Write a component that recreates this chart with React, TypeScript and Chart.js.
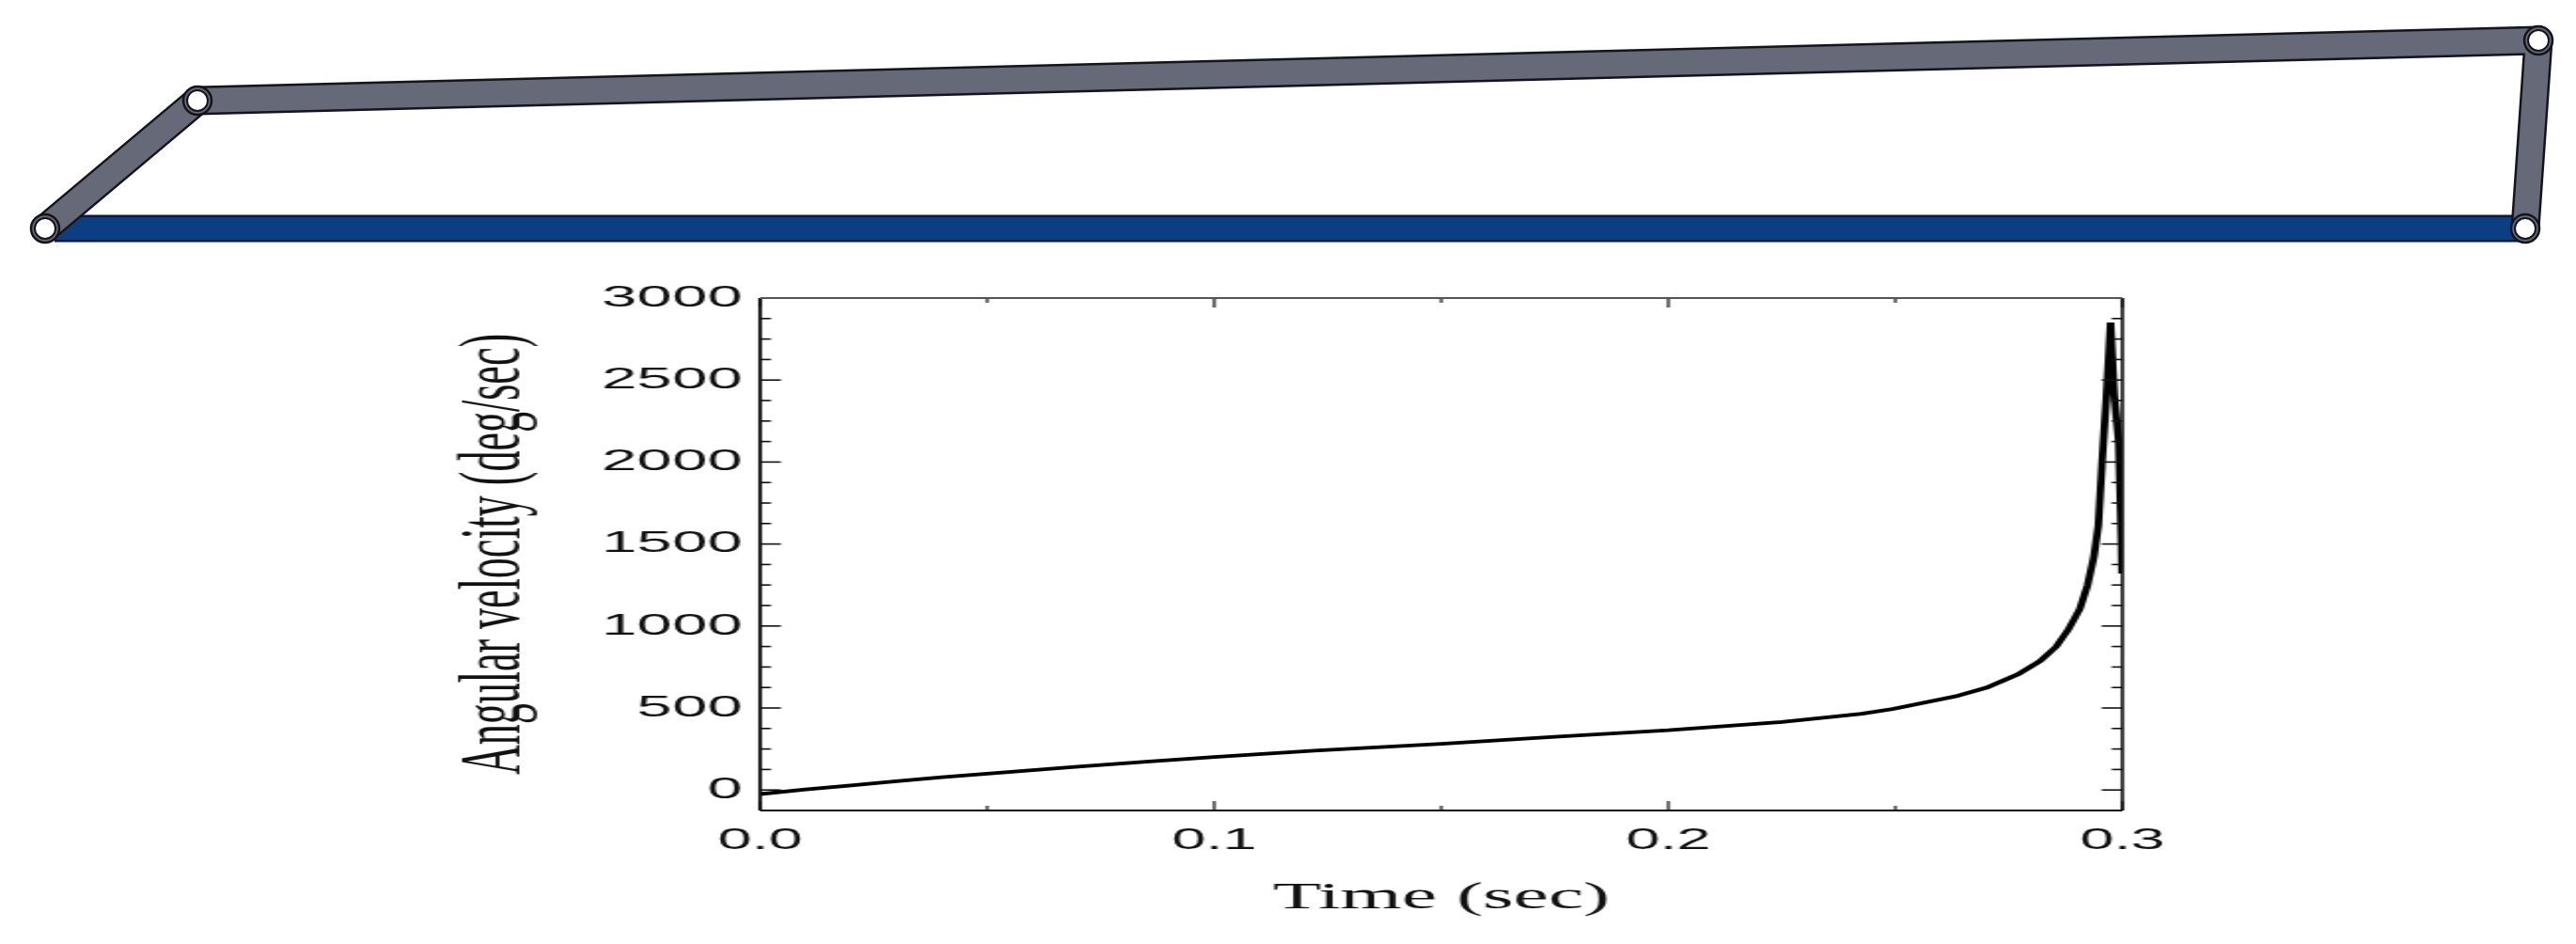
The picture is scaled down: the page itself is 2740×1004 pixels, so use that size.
import React, {useEffect, useRef} from "react";
import Chart from "chart.js/auto";

// curve
const times = [0, 0.01, 0.02, 0.03, 0.04, 0.05, 0.07, 0.085, 0.1, 0.122, 0.15, 0.175, 0.2, 0.225, 0.2426, 0.2495, 0.2564, 0.2633, 0.2702, 0.2771, 0.2819, 0.2854, 0.2881, 0.2906, 0.2923, 0.2937, 0.2947, 0.2955, 0.2965, 0.2974, 0.2982, 0.2992, 0.2998, 0.2999]
const omega = [-25, 3, 28, 53, 78, 100, 142, 172, 201, 240, 282, 325, 365, 415, 465, 494, 533, 571, 625, 707, 787, 874, 979, 1103, 1247, 1420, 1611, 1989, 2408, 2851, 2408, 2120, 1490, 1320]

const yTicks = [0, 500, 1000, 1500, 2000, 2500, 3000]
const yMinor = [125, 250, 375, 625, 750, 875, 1125, 1250, 1375, 1625, 1750, 1875, 2125, 2250, 2375, 2625, 2750, 2875]
const xTicks = [0, 0.1, 0.2, 0.3]
const xMinor = [0.05, 0.15, 0.25]

// four-bar linkage above the plot, in page pixels
const groundX = [58, 2686]
const groundY = [243, 243]
const linkX = [[48, 210], [210, 2700], [2700, 2686]]
const linkY = [[243, 107], [107, 43], [43, 243]]
const jointX = [48, 210, 2700, 2686]
const jointY = [243, 107, 43, 243]

const STRETCH = 2.1
const PAGE_W = 2740
const PAGE_H = 1004

const frameTicks = {
    id: "frameTicks",
    afterDatasetsDraw(chart:any){
        const {ctx, chartArea:a, scales} = chart
        const x = scales.x
        const y = scales.y
        ctx.save()
        ctx.strokeStyle = "#111"
        const tick = (x1:number, y1:number, x2:number, y2:number, w:number) => {
            ctx.lineWidth = w
            ctx.beginPath()
            ctx.moveTo(x1, y1)
            ctx.lineTo(x2, y2)
            ctx.stroke()
        }
        yTicks.forEach(v => {
            const p = y.getPixelForValue(v)
            tick(a.left, p, a.left + 10.5, p, 1.6)
            tick(a.right, p, a.right - 10.5, p, 1.6)
        })
        yMinor.forEach(v => {
            const p = y.getPixelForValue(v)
            tick(a.left, p, a.left + 5.5, p, 1.6)
            tick(a.right, p, a.right - 5.5, p, 1.6)
        })
        xTicks.forEach(v => {
            const p = x.getPixelForValue(v)
            tick(p, a.bottom, p, a.bottom - 10, 1.2)
            tick(p, a.top, p, a.top + 10, 1.2)
        })
        xMinor.forEach(v => {
            const p = x.getPixelForValue(v)
            tick(p, a.bottom, p, a.bottom - 5, 1.2)
            tick(p, a.top, p, a.top + 5, 1.2)
        })
        tick(a.left, a.top, a.left, a.bottom, 1.8)
        tick(a.right, a.top, a.right, a.bottom, 1.6)
        tick(a.left, a.bottom, a.right, a.bottom, 2.2)
        ctx.strokeStyle = "#555"
        tick(a.left, a.top, a.right, a.top, 2)
        ctx.restore()
    }
}

const App = () => {
    const plotRef = useRef<HTMLCanvasElement>(null)
    const linkRef = useRef<HTMLCanvasElement>(null)

    useEffect(()=>{
        const plot = new Chart(plotRef.current as HTMLCanvasElement, {
            type: "line",
            data: {
                datasets: [{
                    data: times.map((t, i) => ({x: t, y: omega[i]})),
                    borderColor: "#000",
                    borderWidth: 3.8,
                    pointRadius: 0,
                    tension: 0,
                }]
            },
            options: {
                responsive: false,
                animation: false,
                layout: {padding: {left: 225, right: Math.round(PAGE_W / STRETCH) - 1075, top: 317, bottom: 0}},
                plugins: {legend: {display: false}, tooltip: {enabled: false}},
                scales: {
                    x: {
                        type: "linear",
                        min: 0,
                        max: 0.3,
                        afterBuildTicks: (s:any) => { s.ticks = xTicks.map(v => ({value: v})) },
                        afterFit: (s:any) => { s.height = 142 },
                        grid: {display: false, drawTicks: false},
                        border: {display: false},
                        ticks: {
                            autoSkip: false,
                            maxRotation: 0,
                            padding: 14,
                            color: "#111",
                            font: {family: "Liberation Sans", size: 31},
                            callback: (v:any) => Number(v).toFixed(1),
                        },
                        title: {
                            display: true,
                            text: "Time (sec)",
                            color: "#111",
                            font: {family: "Liberation Serif", size: 40},
                            padding: {top: 0, bottom: 25},
                        },
                    },
                    y: {
                        min: -125,
                        max: 3000,
                        afterBuildTicks: (s:any) => { s.ticks = yTicks.map(v => ({value: v})) },
                        afterFit: (s:any) => { s.width = 160 },
                        grid: {display: false, drawTicks: false},
                        border: {display: false},
                        ticks: {
                            autoSkip: false,
                            padding: 9,
                            color: "#111",
                            font: {family: "Liberation Sans", size: 32},
                            callback: (v:any) => String(v),
                        },
                        title: {
                            display: true,
                            text: "Angular velocity (deg/sec)",
                            color: "#111",
                            font: {family: "Liberation Serif", size: 44},
                            padding: 0,
                        },
                    },
                },
            },
            plugins: [frameTicks],
        } as any)

        const pairs = (xs:number[], ys:number[]) => xs.map((x, i) => ({x, y: ys[i]}))
        const bar = (d:any[], color:string, width:number, cap:string) => ({
            data: d, borderColor: color, borderWidth: width, borderCapStyle: cap,
            pointRadius: 0, showLine: true, tension: 0,
        })
        const joint = (r:number, fill:string, edge:string, w:number) => ({
            data: pairs(jointX, jointY), showLine: false, pointRadius: r,
            pointBackgroundColor: fill, pointBorderColor: edge, pointBorderWidth: w,
        })
        const layers:any[] = [
            bar(pairs(groundX, groundY), "#0a1a3c", 29, "butt"),
            bar(pairs(groundX, groundY), "#0b3f82", 24, "butt"),
            ...linkX.map((xs, i) => bar(pairs(xs, linkY[i]), "#14141a", 31, "round")),
            ...linkX.map((xs, i) => bar(pairs(xs, linkY[i]), "#666a78", 26, "round")),
            joint(15, "#666a78", "#14141a", 2.5),
            joint(11, "#fff", "#14141a", 2),
        ]
        // later layers go on top
        layers.forEach((l, i) => { l.order = layers.length - i })

        const linkage = new Chart(linkRef.current as HTMLCanvasElement, {
            type: "scatter",
            data: {datasets: layers},
            options: {
                responsive: false,
                animation: false,
                clip: false,
                layout: {autoPadding: false, padding: 0},
                plugins: {legend: {display: false}, tooltip: {enabled: false}},
                scales: {
                    x: {display: false, min: 0, max: PAGE_W},
                    y: {display: false, min: 0, max: 290, reverse: true},
                },
            },
        } as any)

        return ()=>{
            plot.destroy()
            linkage.destroy()
        }
    }, [])

    return (
        <div style={{position:"absolute", left:0, top:0, width:PAGE_W, height:PAGE_H, overflow:"hidden", background:"#fff"}}>
            <div style={{position:"absolute", left:0, top:0, transform:`scaleX(${STRETCH})`, transformOrigin:"0 0"}}>
                <canvas ref={plotRef} width={Math.round(PAGE_W / STRETCH)} height={PAGE_H} style={{display:"block"}}></canvas>
            </div>
            <canvas ref={linkRef} width={PAGE_W} height={290} style={{position:"absolute", left:0, top:0, display:"block"}}></canvas>
        </div>
    )
}

export default App
